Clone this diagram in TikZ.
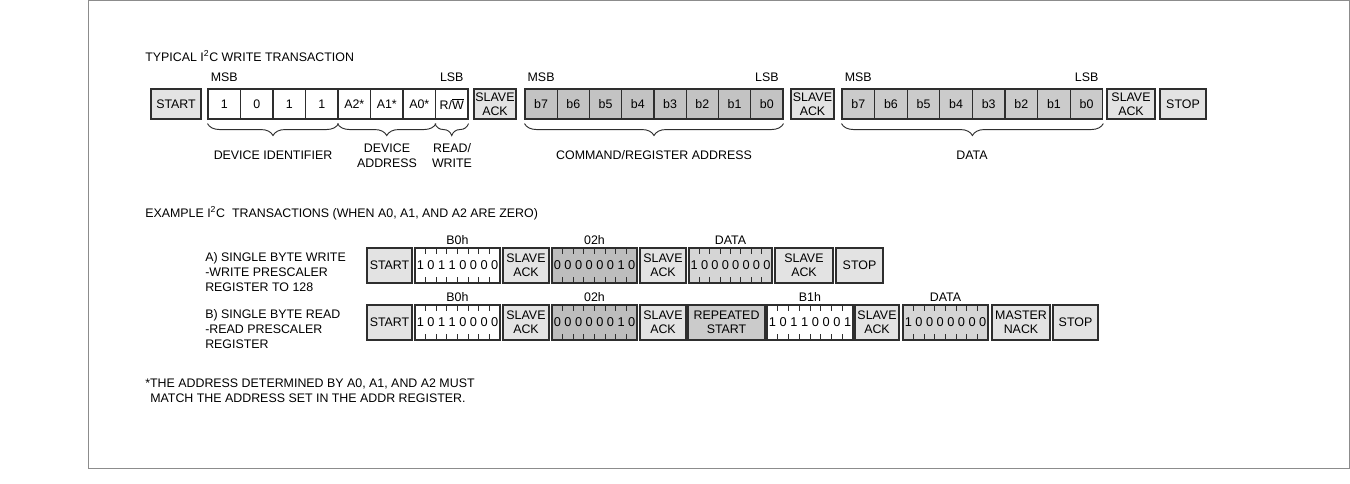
\documentclass[tikz,border=0pt]{standalone}
\usepackage{fontspec}
\setmainfont{Liberation Sans}
\usetikzlibrary{decorations.pathreplacing}
\definecolor{lbox}{HTML}{E3E3E3}
\definecolor{cmdfill}{HTML}{C3C3C3}
\definecolor{datfill}{HTML}{CBCBCB}
\definecolor{darkbyte}{HTML}{BDBDBD}
\definecolor{lightbyte}{HTML}{D5D5D5}
\definecolor{rptfill}{HTML}{CBCBCB}
\definecolor{edge}{HTML}{2E2E2E}
\definecolor{framecol}{HTML}{8C8C8C}
\newcommand\bxn[7]{\node[#2, minimum width={(#4-#3)*0.75pt}, minimum height={(#6-#5)*0.75pt}] (#1) at ({(#3+#4)/2},{(#5+#6)/2}) {#7};}
\newcommand\bytebx[8]{%
  \bxn{#1}{boxst, fill=#6}{#2}{#3}{#4}{#5}{}
  \foreach \dg [count=\kk] in {#7} {\node[digit] (#1-\kk) at ({#2+(\kk-0.5)*(#3-#2)/8},{(#4+#5)/2}) {\dg};}
  \foreach \kk in {1,...,7} {
    \draw[tickst] ({#2+\kk*(#3-#2)/8},#4) -- ++(0,6);
    \draw[tickst] ({#2+\kk*(#3-#2)/8},#5) -- ++(0,-6);
  }
  \node[txt, anchor=base] (#1-lbl) at ({(#2+#3)/2},{#4-4}) {#8};
}
\begin{document}
\begin{tikzpicture}[x=0.75pt,y=-0.75pt,
  txt/.style={inner sep=0pt, font=\fontsize{9.3}{10.5}\selectfont},
  boxst/.style={draw=edge, line width=0.8pt, inner sep=0pt, align=center, font=\fontsize{9.3}{10.5}\selectfont},
  digit/.style={inner sep=0pt, font=\fontsize{9.6}{10.5}\selectfont},
  tickst/.style={draw=edge, line width=0.6pt},
  brc/.style={draw=edge, line width=0.7pt, decorate, decoration={brace, mirror, amplitude=9pt}},
  framest/.style={draw=framecol, line width=0.7pt}
]
\useasboundingbox (0,0) rectangle (1350,483);
\draw[framest] (88,0.5) rectangle (1349.5,468);

% ---------- typical write transaction ----------
\node[txt, anchor=base west] (title) at (145,61.5) {TYPICAL I\textsuperscript{2}C WRITE TRANSACTION};

\bxn{start}{boxst, fill=lbox}{151}{201}{89}{119}{START}
\foreach \t [count=\k] in {1,0,1,1,A2*,A1*,A0*,R/$\overline{\mbox{W}}$} {
  \node[boxst, fill=white, minimum width=32.5*0.75pt, minimum height=30*0.75pt] (d\k) at ({208+(\k-0.5)*32.5},104) {\t};
}
\bxn{ack1}{boxst, fill=lbox}{474}{516}{89}{119}{SLAVE\\ACK}
\foreach \t [count=\k] in {b7,b6,b5,b4,b3,b2,b1,b0} {
  \node[boxst, fill=cmdfill, minimum width=32.25*0.75pt, minimum height=30*0.75pt] (c\k) at ({525+(\k-0.5)*32.25},104) {\t};
}
\bxn{ack2}{boxst, fill=lbox}{791}{834}{89}{119}{SLAVE\\ACK}
\foreach \t [count=\k] in {b7,b6,b5,b4,b3,b2,b1,b0} {
  \node[boxst, fill=datfill, minimum width=32.6*0.75pt, minimum height=30*0.75pt] (e\k) at ({842+(\k-0.5)*32.6},104) {\t};
}
\bxn{ack3}{boxst, fill=lbox}{1107}{1155}{89}{119}{SLAVE\\ACK}
\bxn{stop}{boxst, fill=lbox}{1160}{1206}{89}{119}{STOP}

\node[txt, anchor=base] (msb1) at (224.25,81.5) {MSB};
\node[txt, anchor=base] (lsb1) at (451.75,81.5) {LSB};
\node[txt, anchor=base] (msb2) at (541.1,81.5) {MSB};
\node[txt, anchor=base] (lsb2) at (766.9,81.5) {LSB};
\node[txt, anchor=base] (msb3) at (858.3,81.5) {MSB};
\node[txt, anchor=base] (lsb3) at (1086.7,81.5) {LSB};

\draw[brc] ([yshift=-3pt]d1.south west) -- ([yshift=-3pt]d4.south east);
\draw[brc] ([yshift=-3pt]d5.south west) -- ([yshift=-3pt]d7.south east);
\draw[brc] ([yshift=-3pt]d8.south west) -- ([yshift=-3pt]d8.south east);
\draw[brc] ([yshift=-3pt]c1.south west) -- ([yshift=-3pt]c8.south east);
\draw[brc] ([yshift=-3pt]e1.south west) -- ([yshift=-3pt]e8.south east);

\node[txt, anchor=base] (lid) at (273,159.5) {DEVICE IDENTIFIER};
\node[txt, anchor=base] (ladr1) at (387,152.5) {DEVICE};
\node[txt, anchor=base] (ladr2) at (387,167.5) {ADDRESS};
\node[txt, anchor=base] (lrw1) at (452,152.5) {READ/};
\node[txt, anchor=base] (lrw2) at (452,167.5) {WRITE};
\node[txt, anchor=base] (lcmd) at (654,159.5) {COMMAND/REGISTER ADDRESS};
\node[txt, anchor=base] (ldat) at (972,159.5) {DATA};

% ---------- examples ----------
\node[txt, anchor=base west] (extitle) at (145,217.5) {EXAMPLE I\textsuperscript{2}C\ \ TRANSACTIONS (WHEN A0, A1, AND A2 ARE ZERO)};

\node[txt, anchor=base west] (da1) at (205,261.5) {A) SINGLE BYTE WRITE};
\node[txt, anchor=base west] (da2) at (205,276.5) {-WRITE PRESCALER};
\node[txt, anchor=base west] (da3) at (205,291.5) {REGISTER TO 128};

\bxn{startA}{boxst, fill=lbox}{367}{412}{248}{283}{START}
\bytebx{bA1}{415}{500}{248}{283}{white}{1,0,1,1,0,0,0,0}{B0h}
\bxn{ackA1}{boxst, fill=lbox}{503}{549}{248}{283}{SLAVE\\ACK}
\bytebx{bA2}{552}{637}{248}{283}{darkbyte}{0,0,0,0,0,0,1,0}{02h}
\bxn{ackA2}{boxst, fill=lbox}{640}{686}{248}{283}{SLAVE\\ACK}
\bytebx{bA3}{689}{772}{248}{283}{lightbyte}{1,0,0,0,0,0,0,0}{DATA}
\bxn{ackA3}{boxst, fill=lbox}{775}{833}{248}{283}{SLAVE\\ACK}
\bxn{stopA}{boxst, fill=lbox}{836}{883}{248}{283}{STOP}

\node[txt, anchor=base west] (db1) at (205,318.5) {B) SINGLE BYTE READ};
\node[txt, anchor=base west] (db2) at (205,333.5) {-READ PRESCALER};
\node[txt, anchor=base west] (db3) at (205,348.5) {REGISTER};

\bxn{startB}{boxst, fill=lbox}{367}{412}{305}{340}{START}
\bytebx{bB1}{415}{500}{305}{340}{white}{1,0,1,1,0,0,0,0}{B0h}
\bxn{ackB1}{boxst, fill=lbox}{503}{549}{305}{340}{SLAVE\\ACK}
\bytebx{bB2}{552}{637}{305}{340}{darkbyte}{0,0,0,0,0,0,1,0}{02h}
\bxn{ackB2}{boxst, fill=lbox}{640}{686}{305}{340}{SLAVE\\ACK}
\bxn{rstart}{boxst, fill=rptfill}{688}{765}{305}{340}{REPEATED\\START}
\bytebx{bB3}{767}{853}{305}{340}{white}{1,0,1,1,0,0,0,1}{B1h}
\bxn{ackB3}{boxst, fill=lbox}{855}{899}{305}{340}{SLAVE\\ACK}
\bytebx{bB4}{903}{988}{305}{340}{lightbyte}{1,0,0,0,0,0,0,0}{DATA}
\bxn{nack}{boxst, fill=lbox}{992}{1050}{305}{340}{MASTER\\NACK}
\bxn{stopB}{boxst, fill=lbox}{1053}{1098}{305}{340}{STOP}

% ---------- footnote ----------
\node[txt, anchor=base west] (fn1) at (145,387.5) {*THE ADDRESS DETERMINED BY A0, A1, AND A2 MUST};
\node[txt, anchor=base west] (fn2) at (150,402.5) {MATCH THE ADDRESS SET IN THE ADDR REGISTER.};
\end{tikzpicture}
\end{document}
